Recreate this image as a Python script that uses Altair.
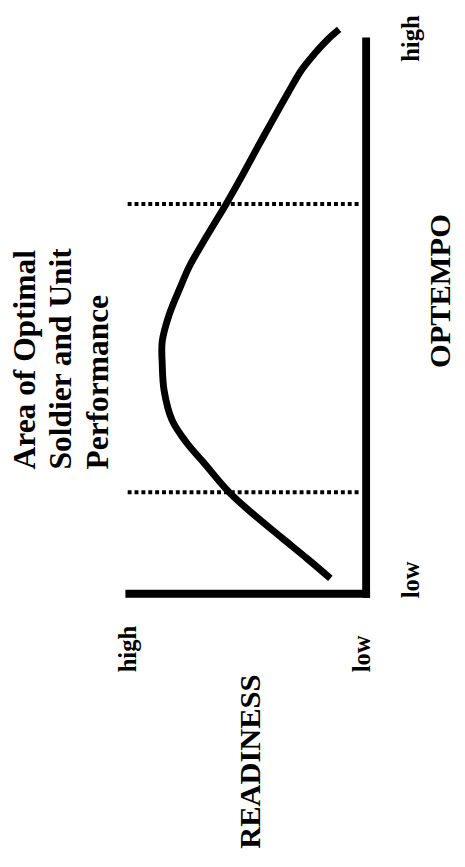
import altair as alt
import pandas as pd

# ---- data ----
# curve: OPTEMPO (0 = low .. 100 = high) against READINESS (0 = low .. 100 = high)
optempo = [2.7, 6.2, 10.0, 14.4, 18.3, 23.7, 27.2, 31.3, 36.7, 41.5, 45.6, 50.4,
           55.3, 59.3, 64.6, 70.5, 75.8, 81.1, 86.5, 90.6, 94.8, 97.7, 100.2, 102.1]
readiness = [14.9, 24.5, 35.3, 47.7, 57.7, 68.5, 75.5, 81.7, 85.1, 85.9, 85.9, 83.0,
             78.4, 74.3, 67.2, 58.9, 51.9, 45.2, 38.2, 32.8, 27.0, 21.6, 16.2, 11.2]

# dotted boundaries of the optimal area (OPTEMPO values), spanning READINESS
boundary_optempo = [18.3, 70.5]
boundary_from = [100.5, 100.5]
boundary_to = [2.0, 2.0]

axis_values = [0, 100]
annotation = "Area of Optimal\nSoldier and Unit\nPerformance"

FONT = "Liberation Serif"

curve_df = pd.DataFrame({"optempo": optempo, "readiness": readiness,
                         "order": list(range(len(optempo)))})
bound_df = pd.DataFrame({"optempo": boundary_optempo, "r1": boundary_from, "r2": boundary_to})

x_scale = alt.Scale(domain=[0, 100], reverse=True, nice=False, zero=False)
y_scale = alt.Scale(domain=[0, 100], nice=False, zero=False)

x_axis = alt.Axis(
    values=axis_values,
    labelExpr="datum.value == 0 ? 'low' : 'high'",
    labelAngle=270, labelAlign="left", labelBaseline="alphabetic",
    labelPadding=80,
    labelOffset=alt.condition("datum.value == 0", alt.value(4), alt.value(7)),
    labelFont=FONT, labelFontSize=25, labelFontWeight="bold", labelColor="black",
    labelFlush=False, labelOverlap=False, labelBound=False,
    ticks=False, tickSize=0, grid=False,
    domainColor="black", domainWidth=8, domainCap="square",
    title="READINESS", titleFont=FONT, titleFontSize=31, titleFontWeight="bold",
    titleColor="black", titleAngle=270, titleAlign="center", titleBaseline="alphabetic",
    titleX=133, titleY=171,
)

y_axis = alt.Axis(
    orient="right",
    values=axis_values,
    labelExpr="datum.value == 0 ? 'low' : 'high'",
    labelAngle=270, labelAlign="center", labelBaseline="alphabetic",
    labelPadding=54,
    labelOffset=alt.condition("datum.value == 0", alt.value(-14), alt.value(-3)),
    labelFont=FONT, labelFontSize=25, labelFontWeight="bold", labelColor="black",
    labelFlush=False, labelOverlap=False, labelBound=False,
    ticks=False, tickSize=0, grid=False,
    domainColor="black", domainWidth=8, domainCap="square",
    title="OPTEMPO", titleFont=FONT, titleFontSize=31, titleFontWeight="bold",
    titleColor="black", titleAngle=270, titleAlign="center", titleBaseline="alphabetic",
    titleX=85, titleY=254,
)

curve = alt.Chart(curve_df).mark_line(
    color="black", strokeWidth=7, interpolate="catmull-rom", strokeCap="butt"
).encode(
    x=alt.X("readiness:Q", scale=x_scale, axis=x_axis),
    y=alt.Y("optempo:Q", scale=y_scale, axis=y_axis),
    order="order:Q",
)

bounds = alt.Chart(bound_df).mark_rule(
    color="black", strokeWidth=4, strokeDash=[4, 3], strokeCap="butt"
).encode(
    x=alt.X("r1:Q", scale=x_scale),
    x2="r2:Q",
    y=alt.Y("optempo:Q", scale=y_scale),
)

note = alt.Chart(pd.DataFrame({"text": [annotation]})).mark_text(
    angle=270, align="left", baseline="alphabetic", lineBreak="\n", lineHeight=37.5,
    font=FONT, fontSize=32, fontWeight="bold", color="black",
).encode(
    x=alt.value(-96), y=alt.value(436), text="text:N"
)

chart = alt.layer(bounds, curve, note).properties(
    width=241, height=562,
    autosize="none",
    padding={"left": 123, "top": 26, "right": 93, "bottom": 271},
    background="white",
).configure_view(stroke=None)

chart.save("out.html", embed_options={"renderer": "svg", "actions": False})
